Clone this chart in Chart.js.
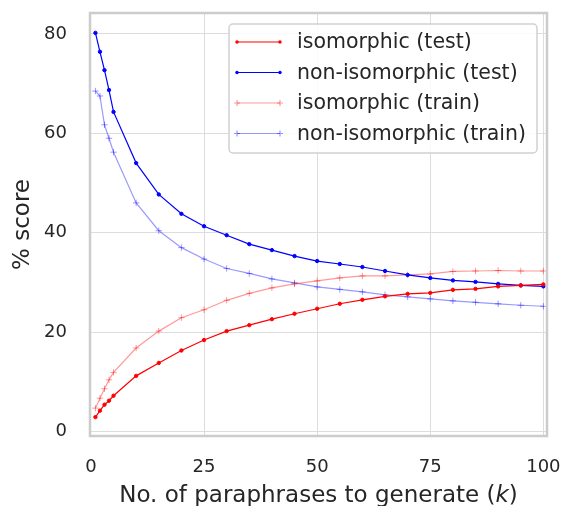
<!DOCTYPE html>
<html>
<head>
<meta charset="utf-8">
<script src="https://cdn.jsdelivr.net/npm/chart.js@4/dist/chart.umd.min.js"></script>
<style>
  html, body { margin: 0; padding: 0; background: #fff; }
  #wrap { width: 562px; height: 506px; }
</style>
</head>
<body>
<div id="wrap"><canvas id="chart" width="562" height="506"></canvas></div>
<script>
/* ===== Paraphrase score chart ===== */
const K_VALUES = [1, 2, 3, 4, 5, 10, 15, 20, 25, 30, 35, 40, 45, 50, 55, 60, 65, 70, 75, 80, 85, 90, 95, 100];

const ISO_TEST = [2.9, 4.2, 5.4, 6.2, 7.2, 11.2, 13.8, 16.3, 18.4, 20.2, 21.4, 22.6, 23.7, 24.7, 25.7, 26.5, 27.2, 27.7, 27.9, 28.5, 28.7, 29.2, 29.4, 29.6];
const NONISO_TEST = [80.2, 76.4, 72.7, 68.7, 64.3, 54.0, 47.7, 43.8, 41.3, 39.5, 37.7, 36.5, 35.3, 34.3, 33.7, 33.1, 32.3, 31.5, 30.9, 30.4, 30.1, 29.7, 29.4, 29.2];
const ISO_TRAIN = [4.7, 6.7, 8.6, 10.4, 11.9, 16.8, 20.2, 22.9, 24.5, 26.4, 27.8, 28.9, 29.7, 30.3, 30.9, 31.3, 31.3, 31.5, 31.7, 32.2, 32.3, 32.4, 32.3, 32.3];
const NONISO_TRAIN = [68.5, 67.5, 61.7, 59.0, 56.2, 46.0, 40.4, 37.0, 34.7, 32.8, 31.8, 30.7, 29.9, 29.1, 28.6, 28.1, 27.5, 27.1, 26.7, 26.3, 26.0, 25.7, 25.4, 25.2];

const SERIES_LABELS = ['isomorphic (test)', 'non-isomorphic (test)', 'isomorphic (train)', 'non-isomorphic (train)'];
const X_TICKS = [0, 25, 50, 75, 100];
const Y_TICKS = [0, 20, 40, 60, 80];
const X_TITLE = ['No. of paraphrases to generate (', 'k', ')'];
const Y_TITLE = '% score';

const FONT = '"DejaVu Sans", sans-serif';
const TEXT = '#262626';

const STYLES = [
  { color: '#ff0000', point: 'circle', radius: 1.7 },
  { color: '#0000ff', point: 'circle', radius: 1.7 },
  { color: 'rgba(255,0,0,0.4)', point: 'cross', radius: 3.2 },
  { color: 'rgba(0,0,255,0.4)', point: 'cross', radius: 3.2 }
];

function makeSet(i, values) {
  const s = STYLES[i];
  return {
    label: SERIES_LABELS[i],
    data: K_VALUES.map((k, j) => ({ x: k, y: values[j] })),
    borderColor: s.color,
    backgroundColor: s.color,
    borderWidth: 1.2,
    pointStyle: s.point,
    pointRadius: s.radius,
    pointBorderWidth: 1,
    pointBorderColor: s.color,
    pointBackgroundColor: s.color,
    tension: 0
  };
}

// frame, titles and legend box drawn by hand
const decor = {
  id: 'decor',
  afterDraw(chart) {
    const ctx = chart.ctx;
    const a = chart.chartArea;
    ctx.save();

    // axes frame
    ctx.strokeStyle = '#cccccc';
    ctx.lineWidth = 2.5;
    ctx.strokeRect(a.left, a.top, a.right - a.left, a.bottom - a.top);

    // y title
    ctx.fillStyle = TEXT;
    ctx.font = '23px ' + FONT;
    ctx.textAlign = 'center';
    ctx.textBaseline = 'middle';
    ctx.save();
    ctx.translate(23, (a.top + a.bottom) / 2);
    ctx.rotate(-Math.PI / 2);
    ctx.fillText(Y_TITLE, 0, 0);
    ctx.restore();

    // x title with italic k
    const fonts = ['23px ' + FONT, 'italic 23px ' + FONT, '23px ' + FONT];
    const widths = X_TITLE.map((t, i) => { ctx.font = fonts[i]; return ctx.measureText(t).width; });
    let x = (a.left + a.right) / 2 - widths.reduce((p, c) => p + c, 0) / 2;
    ctx.textAlign = 'left';
    X_TITLE.forEach((t, i) => {
      ctx.font = fonts[i];
      ctx.fillText(t, x, 496);
      x += widths[i];
    });

    // legend
    const bx = 229, by = 24, bw = 308, bh = 129;
    ctx.fillStyle = 'rgba(255,255,255,0.85)';
    ctx.strokeStyle = 'rgba(204,204,204,0.9)';
    ctx.lineWidth = 1.5;
    ctx.beginPath();
    ctx.roundRect(bx, by, bw, bh, 4);
    ctx.fill();
    ctx.stroke();

    ctx.font = '20.5px ' + FONT;
    ctx.textBaseline = 'middle';
    SERIES_LABELS.forEach((label, i) => {
      const s = STYLES[i];
      const y = 42 + i * 30.5;
      ctx.strokeStyle = s.color;
      ctx.fillStyle = s.color;
      ctx.lineWidth = 1.2;
      ctx.beginPath();
      ctx.moveTo(237, y);
      ctx.lineTo(280, y);
      ctx.stroke();
      [237, 280].forEach(px => {
        ctx.beginPath();
        if (s.point === 'circle') {
          ctx.arc(px, y, 1.7, 0, Math.PI * 2);
          ctx.fill();
        } else {
          ctx.moveTo(px - 3, y); ctx.lineTo(px + 3, y);
          ctx.moveTo(px, y - 3); ctx.lineTo(px, y + 3);
          ctx.stroke();
        }
      });
      ctx.fillStyle = TEXT;
      ctx.fillText(label, 297, y + 1);
    });

    ctx.restore();
  }
};

new Chart(document.getElementById('chart'), {
  type: 'line',
  data: {
    datasets: [
      makeSet(0, ISO_TEST),
      makeSet(1, NONISO_TEST),
      makeSet(2, ISO_TRAIN),
      makeSet(3, NONISO_TRAIN)
    ]
  },
  options: {
    responsive: false,
    animation: false,
    layout: { padding: { left: 0, right: 15, top: 13, bottom: 0 } },
    plugins: {
      legend: { display: false },
      tooltip: { enabled: false }
    },
    scales: {
      x: {
        type: 'linear',
        min: -0.2,
        max: 100.8,
        afterFit: s => { s.height = 70; s.paddingLeft = 0; s.paddingRight = 0; },
        afterBuildTicks: s => { s.ticks = X_TICKS.map(v => ({ value: v })); },
        grid: { color: '#dddddd', lineWidth: 1, drawTicks: false },
        border: { display: false },
        ticks: { color: TEXT, padding: 21, maxRotation: 0, font: { family: FONT, size: 18 } }
      },
      y: {
        type: 'linear',
        min: -0.9,
        max: 84.2,
        afterFit: s => { s.width = 90; s.paddingTop = 0; s.paddingBottom = 0; },
        afterBuildTicks: s => { s.ticks = Y_TICKS.map(v => ({ value: v })); },
        grid: { color: '#dddddd', lineWidth: 1, drawTicks: false },
        border: { display: false },
        ticks: { color: TEXT, padding: 23, font: { family: FONT, size: 18 } }
      }
    }
  },
  plugins: [decor]
});
</script>
</body>
</html>
